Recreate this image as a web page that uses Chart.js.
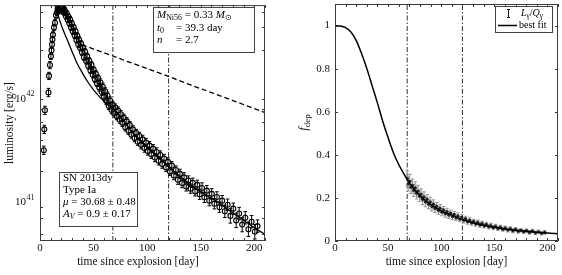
<!DOCTYPE html>
<html>
<head>
<meta charset="utf-8">
<script src="https://cdn.jsdelivr.net/npm/chart.js@4/dist/chart.umd.min.js"></script>
<style>
  body { margin: 0; background: #fff; }
  #wrap { position: relative; width: 562px; height: 275px; }
  #lumChart { position: absolute; left: 0; top: 0; }
  #depChart { position: absolute; left: 280px; top: 0; }
</style>
</head>
<body>
<div id="wrap">
  <canvas id="lumChart" width="280" height="275"></canvas>
  <canvas id="depChart" width="282" height="275"></canvas>
</div>
<script>
// ---- data (luminosity in units of 1e41 erg/s) ----
const tMax = 210;
const markDays = [68, 120];

const lumDay = [
  3.5, 4.0, 4.6, 7.9, 8.4, 9.3, 10.2, 10.7, 11.2, 11.6,
  12.1, 13.0, 14.0, 14.9, 15.8, 16.5, 17.2, 18.0, 18.6, 19.4,
  20.0, 20.5, 21.3, 22.0, 22.6, 23.4, 24.1, 25.0, 25.8, 26.5,
  27.3, 28.1, 29.0, 29.8, 30.6, 31.5, 32.3, 33.1, 34.0, 34.8,
  35.7, 36.5, 37.4, 38.3, 39.1, 40.0, 41.0, 42.0, 43.0, 44.0,
  45.1, 46.0, 47.1, 48.0, 49.2, 50.1, 51.2, 52.1, 53.3, 54.2,
  55.3, 56.4, 57.5, 58.6, 59.7, 60.8, 61.9, 63.0, 64.2, 65.4,
  66.6, 67.8, 69.0, 70.3, 71.6, 72.9, 74.2, 75.5, 76.8, 78.2,
  79.6, 81.0, 82.4, 83.8, 85.2, 86.7, 88.2, 89.7, 91.2, 92.7,
  94.2, 95.8, 97.4, 99.0, 100.6, 102.2, 103.8, 105.5, 107.2, 108.9,
  110.6, 112.3, 114.0, 115.8, 117.6, 119.4, 121.2, 123.0, 124.9, 126.8,
  128.7, 130.6, 132.5, 134.5, 136.5, 138.5, 140.5, 142.6, 144.7, 146.8,
  149.0, 151.2, 153.4, 155.7, 158.0, 160.3, 162.7, 165.1, 167.5, 170.0,
  172.5, 175.1, 177.7, 180.4, 183.1, 185.9, 188.7, 191.6, 194.5, 197.5,
  200.5, 203.0
];
const lumVal = [
  3.2, 5.1, 7.8, 11.6, 16.8, 21.4, 26, 29.7, 33.9, 37.8,
  42, 49.5, 55, 65, 69, 75, 72, 80, 73, 79.5,
  72.5, 78, 71, 75.5, 69, 71.5, 64, 67.5, 59, 63,
  54.5, 59, 49.5, 54, 45.5, 49.5, 41.5, 45.5, 37.5, 41,
  34, 37.5, 31.5, 34.5, 28.5, 31.5, 25.5, 29, 23.5, 26,
  21, 23.5, 19, 21.5, 17.2, 19.2, 15.6, 17.6, 14.2, 16,
  13, 14.5, 11.8, 13.2, 10.6, 11.9, 9.6, 10.8, 8.6, 9.7,
  7.9, 8.8, 7.3, 8.3, 6.85, 7.75, 6.35, 7.15, 5.9, 6.6,
  5.35, 6.1, 4.95, 5.6, 4.55, 5.1, 4.2, 4.7, 3.87, 4.4,
  3.62, 4.08, 3.36, 3.8, 3.15, 3.55, 2.93, 3.32, 2.72, 3.08,
  2.53, 2.88, 2.35, 2.66, 2.18, 2.47, 2.0, 2.27, 1.82, 2.06,
  1.66, 1.89, 1.54, 1.75, 1.43, 1.63, 1.36, 1.55, 1.28, 1.48,
  1.2, 1.38, 1.12, 1.3, 1.04, 1.21, 0.97, 1.13, 0.9, 1.04,
  0.82, 0.95, 0.74, 0.87, 0.67, 0.78, 0.61, 0.71, 0.55, 0.65,
  0.52, 0.59
];
// half length of the error bars, in dex
const lumErr = [
  .04, .04, .04, .04, .035, .035, .03, .03, .03, .03,
  .03, .03, .03, .03, .03, .03, .03, .03, .03, .03,
  .03, .03, .03, .03, .03, .03, .03, .03, .03, .03,
  .03, .03, .03, .03, .03, .03, .03, .03, .03, .03,
  .03, .03, .03, .03, .03, .03, .03, .03, .03, .03,
  .03, .03, .03, .03, .03, .03, .03, .03, .03, .03,
  .035, .035, .035, .035, .035, .035, .035, .035, .035, .035,
  .035, .035, .035, .035, .035, .035, .035, .035, .035, .035,
  .035, .035, .035, .035, .035, .035, .035, .035, .035, .035,
  .04, .04, .04, .04, .04, .04, .04, .04, .04, .04,
  .04, .04, .04, .04, .04, .04, .04, .04, .04, .04,
  .045, .045, .045, .045, .045, .045, .045, .045, .045, .045,
  .05, .05, .05, .05, .05, .05, .05, .05, .05, .05,
  .06, .055, .07, .055, .07, .06, .07, .06, .07, .06,
  .07, .06
];

// best-fit light curve (solid) and total deposition Q (dashed)
const fitDay = [12, 14, 16, 18.6, 22, 26, 30, 34, 40, 45, 50, 55, 60, 65, 70, 80, 90, 100, 110, 120, 130, 140, 150, 160, 170, 180, 190, 200, 210];
const fitLum = [100, 82, 70, 57, 45.7, 36.3, 28.8, 22.9, 17.6, 14.5, 12.3, 10.7, 9.5, 8.5, 7.6, 5.8, 4.3, 3.42, 2.76, 2.24, 1.8, 1.48, 1.27, 1.1, 0.94, 0.79, 0.67, 0.57, 0.49];
const qDay = [39, 42, 50, 60, 68, 80, 100, 120, 140, 160, 180, 200, 210];
const qLum = [33.7, 32.8, 30.6, 28.1, 26.2, 23.5, 19.8, 16.6, 13.8, 11.6, 9.7, 8.1, 7.4];

const lumMin = 0.423, lumMax = 81.5;
const lumTicks = [0.5, 0.6, 0.7, 0.8, 0.9, 1, 2, 3, 4, 5, 6, 7, 8, 9, 10, 20, 30, 40, 50, 60, 70, 80];
const lumLabelVals = [1, 10];
const lumLabelExp = ['41', '42'];

// deposition fraction panel
const depDay = [
  68.0, 69.0, 70.3, 71.6, 72.9, 74.2, 75.5, 76.8, 78.2, 79.6,
  81.0, 82.4, 83.8, 85.2, 86.7, 88.2, 89.7, 91.2, 92.7, 94.2,
  95.8, 97.4, 99.0, 100.6, 102.2, 103.8, 105.5, 107.2, 108.9, 110.6,
  112.3, 114.0, 115.8, 117.6, 119.4, 121.2, 123.0, 124.9, 126.8, 128.7,
  130.6, 132.5, 134.5, 136.5, 138.5, 140.5, 142.6, 144.7, 146.8, 149.0,
  151.2, 153.4, 155.7, 158.0, 160.3, 162.7, 165.1, 167.5, 170.0, 172.5,
  175.1, 177.7, 180.4, 183.1, 185.9, 188.7, 191.6, 194.5, 197.5
];
const depVal = [
  0.29, 0.265, 0.277, 0.25, 0.258, 0.235, 0.247, 0.222, 0.232, 0.208,
  0.218, 0.193, 0.205, 0.181, 0.194, 0.17, 0.182, 0.16, 0.171, 0.151,
  0.161, 0.142, 0.152, 0.134, 0.144, 0.126, 0.137, 0.12, 0.13, 0.113,
  0.124, 0.107, 0.117, 0.101, 0.111, 0.096, 0.104, 0.089, 0.097, 0.084,
  0.091, 0.079, 0.087, 0.074, 0.082, 0.07, 0.077, 0.066, 0.072, 0.062,
  0.068, 0.058, 0.064, 0.055, 0.06, 0.051, 0.057, 0.048, 0.054, 0.045,
  0.05, 0.043, 0.048, 0.04, 0.046, 0.038, 0.043, 0.036, 0.04
];
const depErr = [
  0.035, 0.033, 0.032, 0.03, 0.03, 0.028, 0.028, 0.027, 0.026, 0.025,
  0.024, 0.024, 0.023, 0.022, 0.022, 0.021, 0.021, 0.02, 0.02, 0.019,
  0.018, 0.018, 0.017, 0.017, 0.016, 0.016, 0.015, 0.015, 0.014, 0.014,
  0.013, 0.013, 0.013, 0.012, 0.012, 0.012, 0.011, 0.011, 0.011, 0.011,
  0.01, 0.01, 0.01, 0.01, 0.01, 0.01, 0.01, 0.01, 0.01, 0.01,
  0.009, 0.009, 0.009, 0.009, 0.009, 0.009, 0.009, 0.009, 0.009, 0.009,
  0.008, 0.008, 0.008, 0.008, 0.008, 0.008, 0.008, 0.008, 0.008
];
const depFitDay = [0, 5, 10, 15, 20, 25, 30, 35, 40, 45, 50, 55, 60, 65, 70, 80, 90, 100, 110, 120, 130, 140, 150, 160, 170, 180, 190, 200, 210];
const depFit = [1.0, 0.998, 0.99, 0.97, 0.93, 0.87, 0.80, 0.72, 0.64, 0.555, 0.48, 0.41, 0.355, 0.31, 0.27, 0.21, 0.17, 0.14, 0.12, 0.10, 0.085, 0.073, 0.064, 0.056, 0.050, 0.045, 0.041, 0.037, 0.034];
const depMin = 0, depMax = 1.1;

// ---- drawing helpers ----
const serif = '"Liberation Serif", "Times New Roman", serif';
Chart.defaults.font.family = serif;
Chart.defaults.font.size = 11;
Chart.defaults.color = '#111';
Chart.defaults.animation = false;
Chart.defaults.events = [];

const pts = (xs, ys) => xs.map((x, i) => ({x: x, y: ys[i]}));

// text with italic / subscript / superscript pieces
function richText(ctx, x, y, parts, size, draw = true) {
  let cx = x;
  parts.forEach(p => {
    const fs = (p.sub || p.sup) ? size * 0.72 : size;
    ctx.font = (p.it ? 'italic ' : '') + fs + 'px ' + serif;
    const dy = p.sub ? size * 0.3 : p.sup ? -size * 0.38 : 0;
    if (draw) ctx.fillText(p.t, cx, y + dy);
    cx += ctx.measureText(p.t).width;
  });
  return cx - x;
}

function textBox(ctx, x, y, w, h) {
  ctx.fillStyle = '#fff';
  ctx.fillRect(x, y, w, h);
  ctx.strokeStyle = '#444';
  ctx.lineWidth = 1;
  ctx.strokeRect(x + 0.5, y + 0.5, w - 1, h - 1);
  ctx.fillStyle = '#000';
}

// error bars are drawn just before the markers of the dataset
const errorBars = {
  id: 'errorBars',
  beforeDatasetDraw(chart, args) {
    const ds = chart.data.datasets[args.index];
    if (!ds.yErr) return;
    const ys = chart.scales.y, ctx = chart.ctx, a = chart.chartArea;
    ctx.save();
    ctx.beginPath();
    ctx.rect(a.left, a.top, a.right - a.left, a.bottom - a.top);
    ctx.clip();
    ctx.strokeStyle = ds.errColor;
    ctx.lineWidth = ds.errWidth;
    ctx.beginPath();
    args.meta.data.forEach((el, i) => {
      const v = ds.data[i].y, e = ds.yErr[i];
      const lo = ds.logErr ? v / Math.pow(10, e) : v - e;
      const hi = ds.logErr ? v * Math.pow(10, e) : v + e;
      const y1 = ys.getPixelForValue(lo), y2 = ys.getPixelForValue(hi);
      ctx.moveTo(el.x, y1); ctx.lineTo(el.x, y2);
      ctx.moveTo(el.x - 1.8, y1); ctx.lineTo(el.x + 1.8, y1);
      ctx.moveTo(el.x - 1.8, y2); ctx.lineTo(el.x + 1.8, y2);
    });
    ctx.stroke();
    ctx.restore();
  }
};

// matlab-like box with inward ticks on all four sides
const frameTicks = {
  id: 'frameTicks',
  afterDatasetsDraw(chart) {
    const {ctx, chartArea: a} = chart;
    const xs = chart.scales.x, ys = chart.scales.y;
    ctx.save();
    ctx.strokeStyle = '#3c3c3c';
    ctx.lineWidth = 1;
    ctx.beginPath();
    xs.ticks.forEach(t => {
      const px = Math.round(xs.getPixelForValue(t.value)) + 0.5;
      ctx.moveTo(px, a.bottom); ctx.lineTo(px, a.bottom - 3);
      ctx.moveTo(px, a.top); ctx.lineTo(px, a.top + 3);
    });
    ys.ticks.forEach(t => {
      const py = Math.round(ys.getPixelForValue(t.value)) + 0.5;
      ctx.moveTo(a.left, py); ctx.lineTo(a.left + 3, py);
      ctx.moveTo(a.right, py); ctx.lineTo(a.right - 3, py);
    });
    ctx.stroke();
    ctx.strokeRect(a.left + 0.5, a.top + 0.5, a.right - a.left - 1, a.bottom - a.top - 1);
    ctx.restore();
  }
};

function timeAxis(showTitle) {
  return {
    type: 'linear', min: 0, max: tMax,
    ticks: {
      stepSize: 10, autoSkip: false, maxRotation: 0, includeBounds: false, padding: 1,
      callback: v => (v % 50 === 0 ? String(v) : '')
    },
    grid: { drawOnChartArea: false, drawTicks: false },
    border: { display: false },
    title: { display: showTitle, text: 'time since explosion [day]', font: { size: 11.5 }, padding: { top: 0, bottom: 6 } },
    afterFit(s) { s.height = 34; s.paddingLeft = 0; s.paddingRight = 0; }
  };
}

// ---- left panel: luminosity ----
const lumNotes = {
  id: 'lumNotes',
  afterDraw(chart) {
    const {ctx, chartArea: a} = chart;
    const ys = chart.scales.y;
    ctx.save();
    ctx.textBaseline = 'middle';
    ctx.textAlign = 'left';
    ctx.fillStyle = '#111';
    // 10^41, 10^42
    lumLabelVals.forEach((v, i) => {
      const py = ys.getPixelForValue(v);
      ctx.font = '8px ' + serif;
      const wSup = ctx.measureText(lumLabelExp[i]).width;
      ctx.font = '11px ' + serif;
      const wBase = ctx.measureText('10').width;
      const x0 = a.left - 6 - wSup - wBase;
      ctx.fillText('10', x0, py);
      ctx.font = '8px ' + serif;
      ctx.fillText(lumLabelExp[i], x0 + wBase + 0.5, py - 5);
    });

    // x axis title sits left of the axes centre in the original
    ctx.textAlign = 'center';
    ctx.font = '11.5px ' + serif;
    ctx.fillText('time since explosion [day]', 138, 262);
    ctx.textAlign = 'left';

    textBox(ctx, 153, 7, 102, 46);
    richText(ctx, 157, 15, [{t: 'M', it: true}, {t: 'Ni56', sub: true}, {t: ' = 0.33 '}, {t: 'M', it: true}, {t: '⊙', sub: true}], 11);
    richText(ctx, 157, 28, [{t: 't', it: true}, {t: '0', sub: true}], 11);
    richText(ctx, 176, 28, [{t: '= 39.3 day'}], 11);
    richText(ctx, 157, 40, [{t: 'n', it: true}], 11);
    richText(ctx, 176, 40, [{t: '= 2.7'}], 11);

    textBox(ctx, 59, 172, 79, 55);
    richText(ctx, 63, 178, [{t: 'SN 2013dy'}], 11);
    richText(ctx, 63, 190, [{t: 'Type Ia'}], 11);
    richText(ctx, 63, 202, [{t: 'μ', it: true}, {t: ' = 30.68 ± 0.48'}], 11);
    richText(ctx, 63, 214, [{t: 'A', it: true}, {t: 'V', it: true, sub: true}, {t: ' = 0.9 ± 0.17'}], 11);
    ctx.restore();
  }
};

new Chart(document.getElementById('lumChart'), {
  type: 'scatter',
  data: {
    datasets: [
      ...markDays.map(d => ({
        type: 'line', data: [{x: d, y: lumMin}, {x: d, y: lumMax}],
        borderColor: '#333', borderWidth: 1, borderDash: [5, 2, 1.5, 2], pointRadius: 0, order: 4
      })),
      {
        type: 'line', label: 'Q', data: pts(qDay, qLum),
        borderColor: '#000', borderWidth: 1.3, borderDash: [5, 3], pointRadius: 0,
        cubicInterpolationMode: 'monotone', order: 3
      },
      {
        label: 'SN 2013dy', data: pts(lumDay, lumVal), yErr: lumErr, logErr: true,
        errColor: '#000', errWidth: 1,
        pointStyle: 'circle', pointRadius: 2.5, borderWidth: 1.1, borderColor: '#000',
        backgroundColor: 'rgba(255,255,255,0)', order: 2
      },
      {
        type: 'line', label: 'best fit', data: pts(fitDay, fitLum),
        borderColor: '#000', borderWidth: 1.3, pointRadius: 0,
        cubicInterpolationMode: 'monotone', order: 1
      }
    ]
  },
  options: {
    responsive: false,
    layout: { padding: { top: 1, right: 15, left: 0, bottom: 0 } },
    plugins: { legend: { display: false }, tooltip: { enabled: false } },
    scales: {
      x: timeAxis(false),
      y: {
        type: 'logarithmic', min: lumMin, max: lumMax,
        afterBuildTicks(axis) { axis.ticks = lumTicks.map(v => ({value: v})); },
        ticks: { callback: () => '' },
        grid: { drawOnChartArea: false, drawTicks: false },
        border: { display: false },
        title: { display: true, text: 'luminosity [erg/s]', font: { size: 11.5 }, padding: { top: 3, bottom: 0 } },
        afterFit(s) { s.width = 40; s.paddingTop = 0; s.paddingBottom = 0; }
      }
    }
  },
  plugins: [errorBars, frameTicks, lumNotes]
});

// ---- right panel: deposition fraction ----
const depNotes = {
  id: 'depNotes',
  afterDraw(chart) {
    const ctx = chart.ctx;
    ctx.save();
    ctx.textBaseline = 'middle';
    ctx.textAlign = 'left';
    ctx.fillStyle = '#111';
    // axis title f_dep, rotated
    const title = [{t: 'f', it: true}, {t: 'dep', sub: true}];
    const w = richText(ctx, 0, 0, title, 12.5, false);
    ctx.translate(24, (chart.chartArea.top + chart.chartArea.bottom) / 2);
    ctx.rotate(-Math.PI / 2);
    richText(ctx, -w / 2, 0, title, 12.5);
    ctx.setTransform(1, 0, 0, 1, 0, 0);

    // legend
    textBox(ctx, 215, 6, 58, 27);
    ctx.strokeStyle = '#000';
    ctx.lineWidth = 0.9;
    ctx.beginPath();
    ctx.moveTo(228.5, 9.5); ctx.lineTo(228.5, 17.5);
    ctx.moveTo(227, 9.5); ctx.lineTo(230, 9.5);
    ctx.moveTo(227, 17.5); ctx.lineTo(230, 17.5);
    ctx.stroke();
    ctx.lineWidth = 1.5;
    ctx.beginPath();
    ctx.moveTo(218, 25.5); ctx.lineTo(237, 25.5);
    ctx.stroke();
    richText(ctx, 241, 13, [{t: 'L', it: true}, {t: 'γ', sub: true}, {t: '/'}, {t: 'Q', it: true}, {t: 'γ', sub: true}], 10);
    richText(ctx, 239, 25, [{t: 'best fit'}], 10);
    ctx.restore();
  }
};

new Chart(document.getElementById('depChart'), {
  type: 'scatter',
  data: {
    datasets: [
      ...markDays.map(d => ({
        type: 'line', data: [{x: d, y: depMin}, {x: d, y: depMax}],
        borderColor: '#333', borderWidth: 1, borderDash: [5, 2, 1.5, 2], pointRadius: 0, order: 4
      })),
      {
        label: 'L/Q', data: pts(depDay, depVal), yErr: depErr, logErr: false,
        errColor: '#9c9c9c', errWidth: 1.1,
        pointStyle: 'circle', pointRadius: 1.6, borderWidth: 0, backgroundColor: '#222', order: 2
      },
      {
        type: 'line', label: 'best fit', data: pts(depFitDay, depFit),
        borderColor: '#000', borderWidth: 1.5, pointRadius: 0,
        cubicInterpolationMode: 'monotone', order: 1
      }
    ]
  },
  options: {
    responsive: false,
    layout: { padding: { top: 1, right: 2, left: 0, bottom: 0 } },
    plugins: { legend: { display: false }, tooltip: { enabled: false } },
    scales: {
      x: timeAxis(true),
      y: {
        type: 'linear', min: depMin, max: depMax,
        ticks: { stepSize: 0.2, includeBounds: false, padding: 5, callback: v => String(Number(v.toFixed(1))) },
        grid: { drawOnChartArea: false, drawTicks: false },
        border: { display: false },
        afterFit(s) { s.width = 55; s.paddingTop = 0; s.paddingBottom = 0; }
      }
    }
  },
  plugins: [errorBars, frameTicks, depNotes]
});
</script>
</body>
</html>
